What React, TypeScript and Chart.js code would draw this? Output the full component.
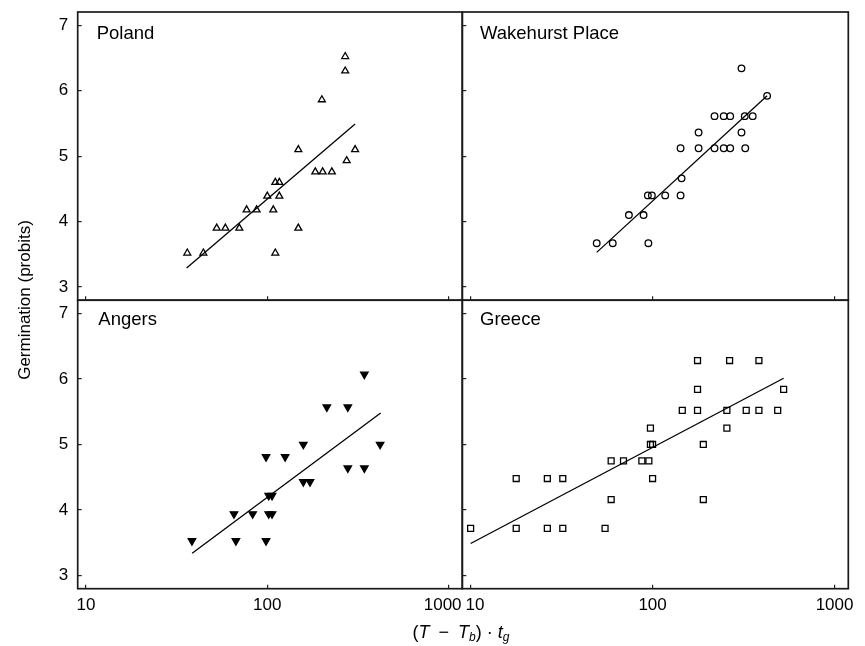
import { useEffect, useRef } from 'react';
import { Chart, registerables } from 'chart.js';

Chart.register(...registerables);

// ---------- data ----------
const xTickValues = [10, 100, 1000];
const xTickLabels = ['10', '100', '1000'];
const yTickValues = [3, 4, 5, 6, 7];
const yTickLabels = ['3', '4', '5', '6', '7'];
const panelNames = ['Poland', 'Wakehurst Place', 'Angers', 'Greece'];
const xAxisTitle = ['(', 'T', '\u2002\u2212\u2002', 'T', 'b', ') \u00b7 ', 't', 'g'];
const yAxisTitle = 'Germination (probits)';

const polandX = [36.2, 44.4, 52.6, 58.7, 70.1, 76.9, 87.3, 107.9, 100, 116.5, 110.7, 116.5, 110.7, 148.3, 148.3, 184, 202, 227, 274, 305, 200, 269, 269];
const polandY = [3.52, 3.52, 3.9, 3.9, 3.9, 4.18, 4.18, 4.18, 4.39, 4.39, 4.6, 4.6, 3.52, 3.9, 5.1, 4.76, 4.76, 4.76, 4.93, 5.1, 5.86, 6.3, 6.52];
const polandFitX = [35.9, 305];
const polandFitY = [3.29, 5.49];

const wakehurstX = [49.3, 60.4, 94.8, 74.1, 89.2, 94.2, 99.1, 117.3, 142.5, 144.3, 142.5, 179, 179, 219, 246, 267, 323, 308, 219, 246, 267, 321, 355, 308, 426];
const wakehurstY = [3.67, 3.67, 3.67, 4.1, 4.1, 4.4, 4.4, 4.4, 4.4, 4.66, 5.12, 5.12, 5.36, 5.12, 5.12, 5.12, 5.12, 5.36, 5.61, 5.61, 5.61, 5.61, 5.61, 6.34, 5.92];
const wakehurstFitX = [49.3, 426];
const wakehurstFitY = [3.53, 5.92];

const angersX = [38.4, 67.1, 98.4, 65.5, 83, 101.8, 106.2, 101.8, 106.2, 98.4, 125.4, 158, 172, 158, 213, 278, 278, 343, 343, 419];
const angersY = [3.53, 3.53, 3.53, 3.94, 3.94, 3.94, 3.94, 4.22, 4.22, 4.81, 4.81, 4.43, 4.43, 5.0, 5.57, 5.57, 4.64, 4.64, 6.07, 5.0];
const angersFitX = [38.5, 422];
const angersFitY = [3.34, 5.48];

const greeceX = [10, 17.8, 26.4, 32.1, 54.8, 17.8, 26.4, 32.1, 59.2, 59.2, 69.2, 87.3, 95.4, 97.3, 100, 97.3, 100, 145.6, 176.6, 176.6, 176.6, 190, 190, 256, 256, 265, 327, 384, 384, 487, 525];
const greeceY = [3.72, 3.72, 3.72, 3.72, 3.72, 4.48, 4.48, 4.48, 4.16, 4.75, 4.75, 4.75, 4.75, 5.0, 5.0, 5.25, 4.48, 5.52, 5.52, 5.84, 6.28, 5.0, 4.16, 5.52, 5.25, 6.28, 5.52, 5.52, 6.28, 5.52, 5.84];
const greeceFitX = [10, 525];
const greeceFitY = [3.49, 6.01];

// ---------- layout / style ----------
const W = 865;
const H = 646;
const FONT = '"Liberation Sans", Arial, Helvetica, sans-serif';
const X_MIN = 9;
const X_MAX = 1190;
const Y_MIN = 2.8;
const Y_MAX = 7.2;
const Y_AXIS_W = 40;
const X_AXIS_H = 30;

type Panel = {
  name: string;
  xs: number[];
  ys: number[];
  fitX: number[];
  fitY: number[];
  pointStyle: string;
  rotation: number;
  radius: number;
  fill: string;
  area: { l: number; t: number; r: number; b: number };
  showX: boolean;
  showY: boolean;
  isRight: boolean;
  titlePos: { left: number; baseline: number };
};

const LEFT_L = 77.7;
const MID_X = 462.3;
const RIGHT_R = 848.3;
const TOP_T = 12;
const MID_Y = 300.2;
const BOT_B = 588.7;

const panels: Panel[] = [
  {
    name: panelNames[0], xs: polandX, ys: polandY, fitX: polandFitX, fitY: polandFitY,
    pointStyle: 'triangle', rotation: 0, radius: 4, fill: 'rgba(255,255,255,0)',
    area: { l: LEFT_L, t: TOP_T, r: MID_X, b: MID_Y }, showX: false, showY: true, isRight: false,
    titlePos: { left: 96.7, baseline: 40 },
  },
  {
    name: panelNames[1], xs: wakehurstX, ys: wakehurstY, fitX: wakehurstFitX, fitY: wakehurstFitY,
    pointStyle: 'circle', rotation: 0, radius: 3.3, fill: 'rgba(255,255,255,0)',
    area: { l: MID_X, t: TOP_T, r: RIGHT_R, b: MID_Y }, showX: false, showY: false, isRight: true,
    titlePos: { left: 480, baseline: 40 },
  },
  {
    name: panelNames[2], xs: angersX, ys: angersY, fitX: angersFitX, fitY: angersFitY,
    pointStyle: 'triangle', rotation: 180, radius: 4.3, fill: '#000',
    area: { l: LEFT_L, t: MID_Y, r: MID_X, b: BOT_B }, showX: true, showY: true, isRight: false,
    titlePos: { left: 98.3, baseline: 325.7 },
  },
  {
    name: panelNames[3], xs: greeceX, ys: greeceY, fitX: greeceFitX, fitY: greeceFitY,
    pointStyle: 'rect', rotation: 0, radius: 4.2, fill: 'rgba(255,255,255,0)',
    area: { l: MID_X, t: MID_Y, r: RIGHT_R, b: BOT_B }, showX: true, showY: false, isRight: true,
    titlePos: { left: 480, baseline: 325.7 },
  },
];

const framePlugin = {
  id: 'panelFrame',
  beforeDatasetsDraw(chart: any) {
    const { ctx, chartArea: a } = chart;
    ctx.save();
    ctx.strokeStyle = '#1a1a1a';
    ctx.lineWidth = 1.7;
    ctx.strokeRect(a.left, a.top, a.right - a.left, a.bottom - a.top);
    ctx.restore();
  },
};

function xLabel(i: number, isRight: boolean): string {
  const s = xTickLabels[i];
  if (!isRight && i === xTickLabels.length - 1) return s + '\u2002\u2009';
  if (isRight && i === 0) return '\u2002' + s;
  return s;
}

function zeroPadding(ax: any) {
  ax.paddingTop = 0;
  ax.paddingBottom = 0;
  ax.paddingLeft = 0;
  ax.paddingRight = 0;
}

function PanelChart({ p }: { p: Panel }) {
  const ref = useRef<HTMLCanvasElement | null>(null);
  useEffect(() => {
    if (!ref.current) return;
    const gridOpts = {
      drawOnChartArea: false,
      drawTicks: true,
      tickLength: -4,
      color: '#222',
      lineWidth: 1.2,
    };
    const chart = new Chart(ref.current, {
      type: 'scatter',
      data: {
        datasets: [
          {
            type: 'scatter',
            data: p.xs.map((x, i) => ({ x, y: p.ys[i] })),
            pointStyle: p.pointStyle as any,
            pointRotation: p.rotation,
            pointRadius: p.radius,
            pointHoverRadius: p.radius,
            pointBackgroundColor: p.fill,
            pointBorderColor: '#000',
            pointBorderWidth: 1.3,
            showLine: false,
          } as any,
          {
            type: 'line',
            data: p.fitX.map((x, i) => ({ x, y: p.fitY[i] })),
            borderColor: '#000',
            borderWidth: 1.3,
            pointRadius: 0,
            fill: false,
            tension: 0,
          } as any,
        ],
      },
      options: {
        animation: false,
        responsive: false,
        maintainAspectRatio: false,
        events: [],
        layout: {
          padding: {
            left: p.area.l - Y_AXIS_W,
            right: W - p.area.r,
            top: p.area.t,
            bottom: H - p.area.b - X_AXIS_H,
          },
        },
        plugins: {
          legend: { display: false },
          tooltip: { enabled: false },
          title: { display: false },
        },
        scales: {
          x: {
            type: 'logarithmic',
            position: 'bottom',
            min: X_MIN,
            max: X_MAX,
            afterBuildTicks: (ax: any) => {
              ax.ticks = xTickValues.map((v) => ({ value: v }));
            },
            afterFit: (ax: any) => {
              ax.height = X_AXIS_H;
              zeroPadding(ax);
            },
            grid: gridOpts,
            border: { display: false },
            ticks: {
              display: p.showX,
              autoSkip: false,
              maxRotation: 0,
              minRotation: 0,
              padding: 10,
              color: '#000',
              font: { family: FONT, size: 17 },
              callback: (_v: any, i: number) => xLabel(i, p.isRight),
            },
          },
          y: {
            type: 'linear',
            position: 'left',
            min: Y_MIN,
            max: Y_MAX,
            afterBuildTicks: (ax: any) => {
              ax.ticks = yTickValues.map((v) => ({ value: v }));
            },
            afterFit: (ax: any) => {
              ax.width = Y_AXIS_W;
              zeroPadding(ax);
            },
            grid: gridOpts,
            border: { display: false },
            ticks: {
              display: p.showY,
              autoSkip: false,
              padding: 13.4,
              color: '#000',
              font: { family: FONT, size: 17 },
              callback: (_v: any, i: number) => yTickLabels[i],
            },
          },
        },
      } as any,
      plugins: [framePlugin],
    });
    return () => chart.destroy();
  }, [p]);
  return (
    <canvas
      ref={ref}
      width={W}
      height={H}
      style={{ position: 'absolute', left: 0, top: 0, width: W, height: H }}
    />
  );
}

const TITLE_FS = 18.5;
const XT_FS = 18;

export default function App() {
  const subStyle = { fontSize: 12, verticalAlign: '-3px', lineHeight: 0, fontStyle: 'italic' } as const;
  return (
    <div
      style={{
        position: 'absolute',
        left: 0,
        top: 0,
        width: W,
        height: H,
        background: '#fff',
        fontFamily: FONT,
        color: '#000',
        overflow: 'hidden',
      }}
    >
      {panels.map((p) => (
        <PanelChart key={p.name} p={p} />
      ))}
      {panels.map((p) => (
        <div
          key={'t-' + p.name}
          style={{
            position: 'absolute',
            left: p.titlePos.left,
            top: p.titlePos.baseline - 0.905 * TITLE_FS,
            fontSize: TITLE_FS,
            lineHeight: `${1.117 * TITLE_FS}px`,
            whiteSpace: 'nowrap',
          }}
        >
          {p.name}
        </div>
      ))}
      <div
        style={{
          position: 'absolute',
          left: 25 - 150,
          top: 300 - 10,
          width: 300,
          height: 20,
          lineHeight: '20px',
          fontSize: 17,
          textAlign: 'center',
          transform: 'rotate(-90deg)',
          whiteSpace: 'nowrap',
        }}
      >
        {yAxisTitle}
      </div>
      <div
        style={{
          position: 'absolute',
          left: 311,
          top: 638 - 0.905 * XT_FS,
          width: 300,
          fontSize: XT_FS,
          lineHeight: `${1.117 * XT_FS}px`,
          textAlign: 'center',
          whiteSpace: 'pre',
        }}
      >
        {xAxisTitle[0]}
        <i>{xAxisTitle[1]}</i>
        {xAxisTitle[2]}
        <i>{xAxisTitle[3]}</i>
        <sub style={subStyle}>{xAxisTitle[4]}</sub>
        {xAxisTitle[5]}
        <i>{xAxisTitle[6]}</i>
        <sub style={subStyle}>{xAxisTitle[7]}</sub>
      </div>
    </div>
  );
}
